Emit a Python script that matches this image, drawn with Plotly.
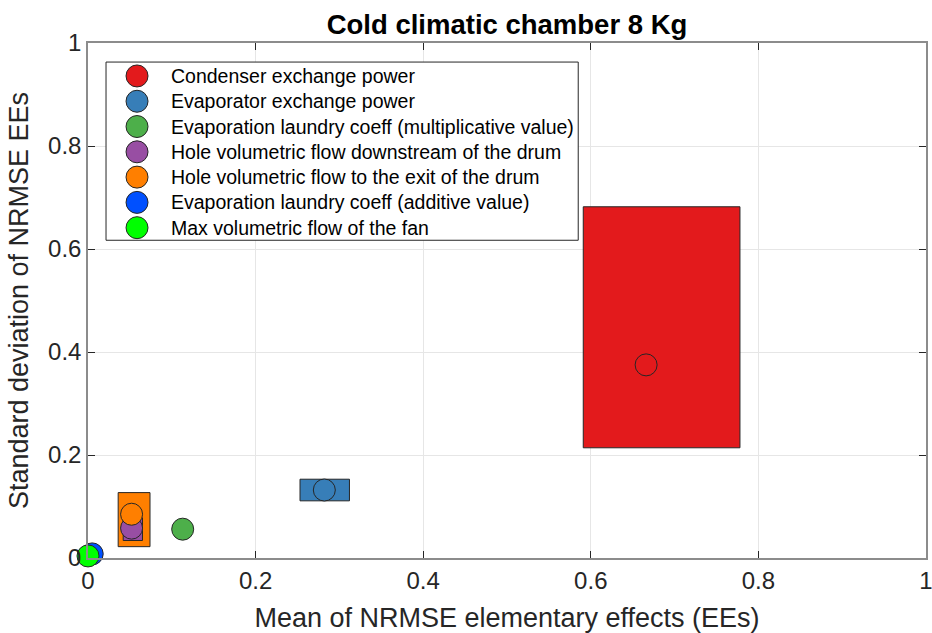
import plotly.graph_objects as go

# Morris screening results: mean and std of NRMSE elementary effects
params = [
    "Condenser exchange power",
    "Evaporator exchange power",
    "Evaporation laundry coeff (multiplicative value)",
    "Hole volumetric flow downstream of the drum",
    "Hole volumetric flow to the exit of the drum",
    "Evaporation laundry coeff (additive value)",
    "Max volumetric flow of the fan",
]
mu = [0.666, 0.282, 0.113, 0.052, 0.052, 0.005, 0.000]
sigma = [0.375, 0.132, 0.056, 0.058, 0.085, 0.008, 0.004]

# bootstrap confidence ranges of mean and std
mu_lo = [0.591, 0.253, 0.112, 0.042, 0.036, 0.004, 0.000]
mu_hi = [0.778, 0.312, 0.114, 0.065, 0.074, 0.006, 0.000]
sigma_lo = [0.214, 0.111, 0.055, 0.034, 0.022, 0.007, 0.004]
sigma_hi = [0.682, 0.153, 0.057, 0.078, 0.127, 0.009, 0.004]

colors = ["#E31A1C", "#377EB8", "#4DAF4A", "#984EA3", "#FF7F00", "#0050FF", "#00FF00"]

tick_vals = [0, 0.2, 0.4, 0.6, 0.8, 1]
tick_text = ["0", "0.2", "0.4", "0.6", "0.8", "1"]

FONT = "Liberation Sans, Arial, sans-serif"
EDGE = "#262626"
MSIZE = 22

fig = go.Figure()

# confidence boxes (drawn back to front)
for i in reversed(range(len(params))):
    fig.add_trace(go.Scatter(
        x=[mu_lo[i], mu_hi[i], mu_hi[i], mu_lo[i], mu_lo[i]],
        y=[sigma_lo[i], sigma_lo[i], sigma_hi[i], sigma_hi[i], sigma_lo[i]],
        mode="lines", fill="toself", fillcolor=colors[i],
        line=dict(color=EDGE, width=1),
        showlegend=False, hoverinfo="skip",
    ))

# mean/std points
for i, name in enumerate(params):
    fig.add_trace(go.Scatter(
        x=[mu[i]], y=[sigma[i]], mode="markers", name=name,
        marker=dict(size=MSIZE, color=colors[i], line=dict(color=EDGE, width=1)),
        cliponaxis=False, showlegend=False,
    ))

# legend box in the upper-left corner of the axes (MATLAB style, large keys)
LEG_X0, LEG_X1, LEG_Y0, LEG_Y1 = 0.0215, 0.585, 0.617, 0.963
KEY_X, TEXT_X, ROW0, ROW_STEP = 0.0585, 0.097, 0.936, 0.0491
fig.add_shape(type="rect", xref="x", yref="y",
              x0=LEG_X0, x1=LEG_X1, y0=LEG_Y0, y1=LEG_Y1,
              fillcolor="white", line=dict(color=EDGE, width=1), layer="between")
rows = [ROW0 - ROW_STEP * k for k in range(len(params))]
fig.add_trace(go.Scatter(
    x=[KEY_X] * len(params), y=rows, mode="markers",
    marker=dict(size=MSIZE, color=colors, line=dict(color=EDGE, width=1)),
    showlegend=False, hoverinfo="skip",
))
for k, name in enumerate(params):
    fig.add_annotation(x=TEXT_X, y=rows[k], xref="x", yref="y", text=name,
                       showarrow=False, xanchor="left", yanchor="middle",
                       font=dict(family=FONT, size=19.5, color="black"))

axis_common = dict(
    range=[0, 1], tickvals=tick_vals, ticktext=tick_text,
    showgrid=True, gridcolor="#e6e6e6", gridwidth=1,
    showline=True, linecolor="#8c8c8c", linewidth=1.5, mirror="ticks",
    ticks="inside", ticklen=7, tickcolor="#262626",
    zeroline=False, tickfont=dict(family=FONT, size=24, color="#262626"),
    fixedrange=True, automargin=False, ticklabeloverflow="allow",
)

fig.update_layout(
    width=932, height=633,
    margin=dict(l=88, r=6, t=43, b=75),
    paper_bgcolor="white", plot_bgcolor="white",
    title=dict(text="<b>Cold climatic chamber 8 Kg</b>", x=0.5, xanchor="center",
               xref="paper", y=0.962, yanchor="middle",
               font=dict(family=FONT, size=27.5, color="black")),
    xaxis=dict(axis_common, title=dict(text="Mean of NRMSE elementary effects (EEs)",
                                       font=dict(family=FONT, size=27, color="#262626"),
                                       standoff=18)),
    yaxis=dict(axis_common, title=dict(text="Standard deviation of NRMSE EEs",
                                       font=dict(family=FONT, size=27, color="#262626"),
                                       standoff=12)),
    showlegend=False,
)

fig.write_html("out.html")
